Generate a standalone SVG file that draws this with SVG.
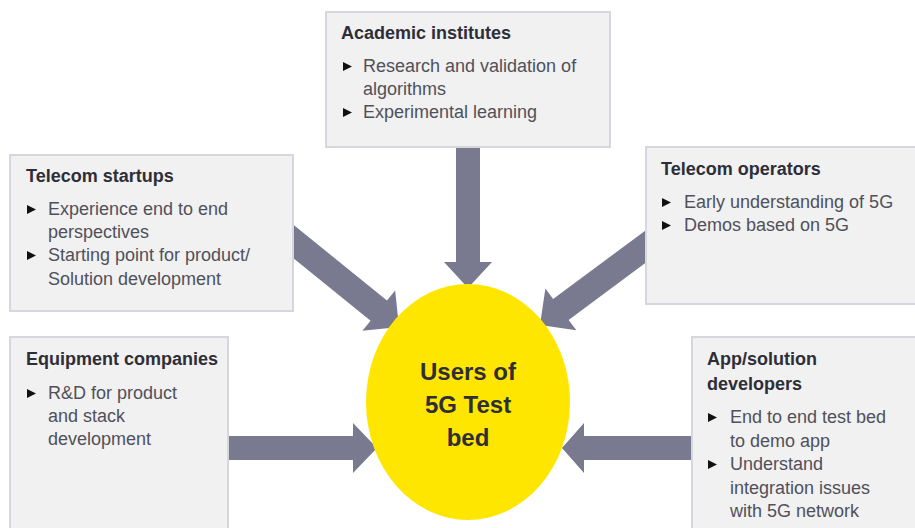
<svg xmlns="http://www.w3.org/2000/svg" xmlns:xlink="http://www.w3.org/1999/xlink" width="915" height="528" viewBox="0 0 915 528">
<style>
.box{fill:#f1f1f1;stroke:#d6d6de;stroke-width:2}
.arr{fill:#797990}
.t{font-family:"Liberation Sans",Arial,sans-serif;font-size:18px;font-weight:bold;fill:#2e2e38}
.b{font-family:"Liberation Sans",Arial,sans-serif;font-size:18px;fill:#50505a}
.c{font-family:"Liberation Sans",Arial,sans-serif;font-size:24px;font-weight:bold;fill:#2e2e38;text-anchor:middle}
.bul{fill:#111}
</style>
<defs>
<polygon id="tri" points="0,-10 9,-5.5 0,-1"/>
</defs>
<rect width="915" height="528" fill="#ffffff"/>
<g id="connectors">
<polygon class="arr" transform="translate(468,288) rotate(90)" points="-145,-12 -26,-12 -26,-24 0,0 -26,24 -26,12 -145,12"/>
<polygon class="arr" transform="translate(399,327) rotate(39)" points="-150,-13 -26,-13 -26,-26 0,0 -26,26 -26,13 -150,13"/>
<polygon class="arr" transform="translate(540,325) rotate(143.4)" points="-150,-13 -26,-13 -26,-26 0,0 -26,26 -26,13 -150,13"/>
<polygon class="arr" transform="translate(377,448) rotate(0)" points="-155,-12 -24,-12 -24,-25 0,0 -24,25 -24,12 -155,12"/>
<polygon class="arr" transform="translate(562,448) rotate(180)" points="-135,-12 -22,-12 -22,-25 0,0 -22,25 -22,12 -135,12"/>
</g>
<g id="center">
<ellipse cx="468" cy="402" rx="102" ry="118" fill="#ffe600"/>
<text class="c" x="468" y="380">Users of</text>
<text class="c" x="468" y="413">5G Test</text>
<text class="c" x="468" y="446">bed</text>
</g>
<g id="academic">
<rect class="box" x="326" y="12" width="284" height="135"/>
<text class="t" x="341" y="39">Academic institutes</text>
<use href="#tri" class="bul" x="343" y="72"/>
<text class="b" x="363" y="72">Research and validation of</text>
<text class="b" x="363" y="95">algorithms</text>
<use href="#tri" class="bul" x="343" y="118"/>
<text class="b" x="363" y="118">Experimental learning</text>
</g>
<g id="startups">
<rect class="box" x="10" y="155" width="283" height="156"/>
<text class="t" x="26" y="182">Telecom startups</text>
<use href="#tri" class="bul" x="27" y="215"/>
<text class="b" x="48" y="215">Experience end to end</text>
<text class="b" x="48" y="238">perspectives</text>
<use href="#tri" class="bul" x="27" y="261"/>
<text class="b" x="48" y="261">Starting point for product/</text>
<text class="b" x="48" y="285">Solution development</text>
</g>
<g id="operators">
<rect class="box" x="646" y="147" width="280" height="157"/>
<text class="t" x="661" y="175">Telecom operators</text>
<use href="#tri" class="bul" x="662" y="208"/>
<text class="b" x="684" y="208">Early understanding of 5G</text>
<use href="#tri" class="bul" x="662" y="231"/>
<text class="b" x="684" y="231">Demos based on 5G</text>
</g>
<g id="equipment">
<rect class="box" x="10" y="337" width="218" height="210"/>
<text class="t" x="26" y="365">Equipment companies</text>
<use href="#tri" class="bul" x="27" y="399"/>
<text class="b" x="48" y="399">R&amp;D for product</text>
<text class="b" x="48" y="422">and stack</text>
<text class="b" x="48" y="445">development</text>
</g>
<g id="appdev">
<rect class="box" x="692" y="337" width="240" height="210"/>
<text class="t" x="707" y="365">App/solution</text>
<text class="t" x="707" y="390">developers</text>
<use href="#tri" class="bul" x="708" y="423"/>
<text class="b" x="730" y="423">End to end test bed</text>
<text class="b" x="730" y="447">to demo app</text>
<use href="#tri" class="bul" x="708" y="470"/>
<text class="b" x="730" y="470">Understand</text>
<text class="b" x="730" y="494">integration issues</text>
<text class="b" x="730" y="517">with 5G network</text>
</g>
</svg>
